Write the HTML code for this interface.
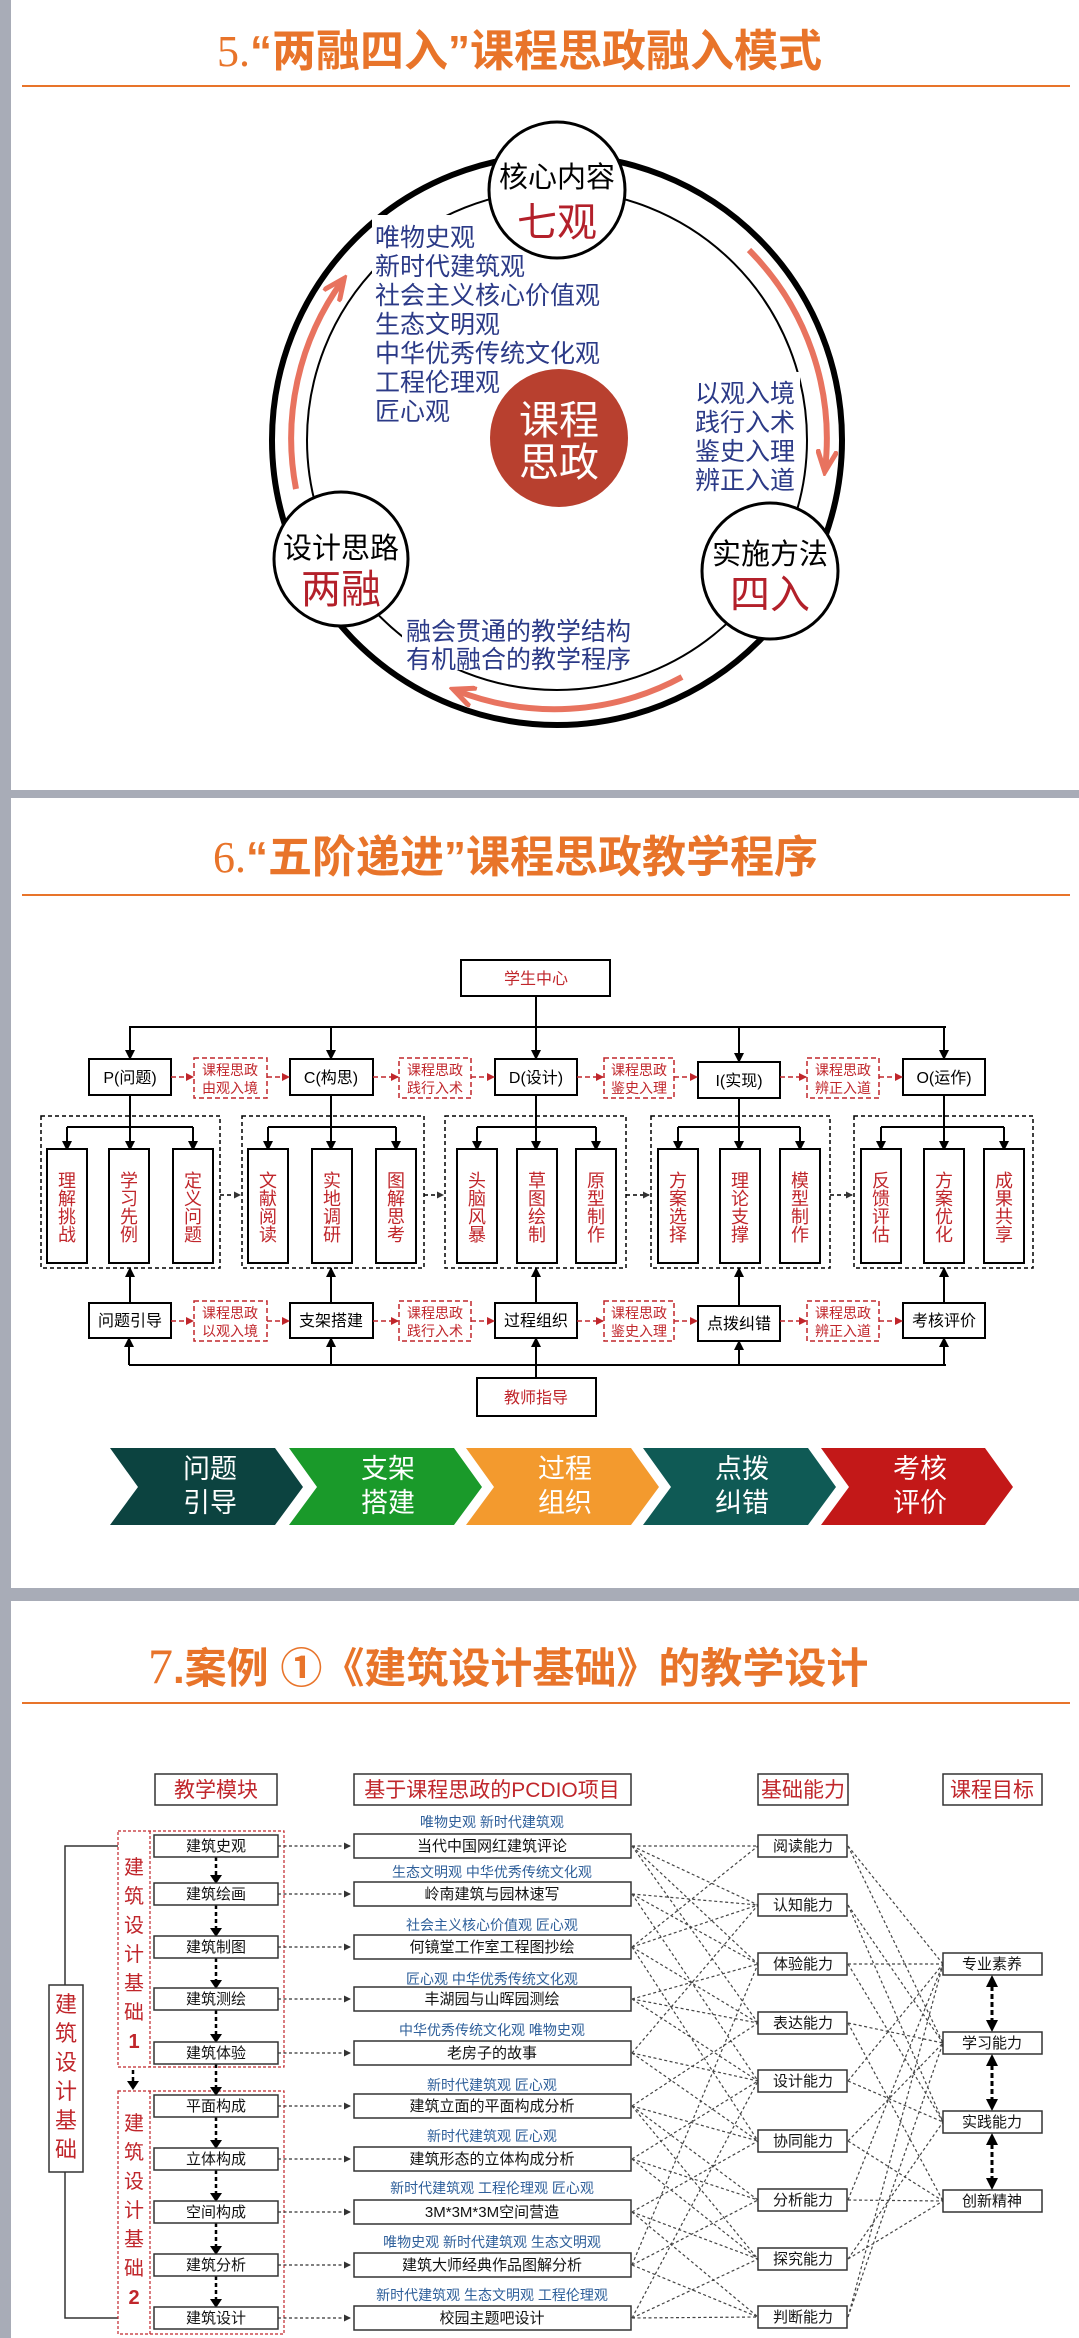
<!DOCTYPE html>
<html><head><meta charset="utf-8"><style>
html,body{margin:0;padding:0;background:#fff}
svg{display:block}
text{font-family:"Liberation Sans","Noto Sans CJK SC",sans-serif}
</style></head><body>
<svg width="1079" height="2338" viewBox="0 0 1079 2338" xmlns="http://www.w3.org/2000/svg">
<defs>
<marker id="ab" markerWidth="10" markerHeight="10" refX="9" refY="5" orient="auto" markerUnits="userSpaceOnUse"><path d="M0,0 L10,5 L0,10 z" fill="#000"/></marker>
<marker id="ab2" markerWidth="14" markerHeight="14" refX="13" refY="7" orient="auto" markerUnits="userSpaceOnUse"><path d="M0,0 L14,7 L0,14 z" fill="#000"/></marker>
<marker id="ar" markerWidth="8" markerHeight="8" refX="7" refY="4" orient="auto" markerUnits="userSpaceOnUse"><path d="M0,0 L8,4 L0,8 z" fill="#c0262b"/></marker>
<marker id="as" markerWidth="7" markerHeight="7" refX="6" refY="3.5" orient="auto" markerUnits="userSpaceOnUse"><path d="M0,0 L7,3.5 L0,7 z" fill="#333"/></marker>
<marker id="ao" markerWidth="26" markerHeight="22" refX="20" refY="11" orient="auto" markerUnits="userSpaceOnUse"><path d="M0,1 L22,11 L0,21" fill="none" stroke="#e8735f" stroke-width="5"/></marker>
</defs>
<!-- frame -->
<rect x="0" y="0" width="11" height="2338" fill="#a8acb7"/>
<rect x="0" y="790" width="1079" height="8" fill="#a8acb7"/>
<rect x="0" y="1588" width="1079" height="13" fill="#a8acb7"/>

<!-- ===== Section 5 ===== -->
<text x="217" y="66" font-size="44" fill="#e8742a" font-weight="bold"><tspan font-family="Liberation Serif" font-weight="normal">5.</tspan>“两融四入”课程思政融入模式</text>
<line x1="22" y1="86" x2="1070" y2="86" stroke="#e8742a" stroke-width="2"/>
<circle cx="557" cy="440" r="285" fill="none" stroke="#000" stroke-width="6"/>
<circle cx="557" cy="440" r="250" fill="none" stroke="#000" stroke-width="2"/>
<!-- text backgrounds to hide inner circle -->
<rect x="372" y="215" width="205" height="210" fill="#fff"/>
<rect x="690" y="372" width="110" height="118" fill="#fff"/>
<rect x="402" y="610" width="245" height="60" fill="#fff"/>
<!-- red arrows -->
<path d="M749,250 A268,268 0 0 1 825,470" fill="none" stroke="#e8735f" stroke-width="6" marker-end="url(#ao)"/>
<path d="M296,489 A268,268 0 0 1 343,280" fill="none" stroke="#e8735f" stroke-width="6" marker-end="url(#ao)"/>
<path d="M682,677 A268,268 0 0 1 455,690" fill="none" stroke="#e8735f" stroke-width="6" marker-end="url(#ao)"/>
<g fill="#2b3a87" font-size="25">
<text x="375" y="246">唯物史观</text><text x="375" y="275">新时代建筑观</text><text x="375" y="304">社会主义核心价值观</text><text x="375" y="333">生态文明观</text><text x="375" y="362">中华优秀传统文化观</text><text x="375" y="391">工程伦理观</text><text x="375" y="420">匠心观</text>
<text x="695" y="402">以观入境</text><text x="695" y="431">践行入术</text><text x="695" y="460">鉴史入理</text><text x="695" y="489">辨正入道</text>
<text x="406" y="640">融会贯通的教学结构</text><text x="406" y="668">有机融合的教学程序</text>
</g>
<circle cx="559" cy="438" r="69" fill="#b8402f"/>
<text x="559" y="434" font-size="40" fill="#fff" text-anchor="middle">课程</text>
<text x="559" y="476" font-size="40" fill="#fff" text-anchor="middle">思政</text>
<circle cx="557" cy="190" r="68" fill="#fff" stroke="#000" stroke-width="3"/>
<text x="557" y="187" font-size="29" text-anchor="middle">核心内容</text>
<text x="557" y="236" font-size="40" fill="#b3202a" text-anchor="middle">七观</text>
<circle cx="341" cy="559" r="67" fill="#fff" stroke="#000" stroke-width="3"/>
<text x="341" y="558" font-size="29" text-anchor="middle">设计思路</text>
<text x="341" y="603" font-size="40" fill="#b3202a" text-anchor="middle">两融</text>
<circle cx="770" cy="571" r="68" fill="#fff" stroke="#000" stroke-width="3"/>
<text x="770" y="564" font-size="29" text-anchor="middle">实施方法</text>
<text x="770" y="608" font-size="40" fill="#b3202a" text-anchor="middle">四入</text>

<!-- ===== Section 6 ===== -->
<text x="213" y="872" font-size="44" fill="#e8742a" font-weight="bold"><tspan font-family="Liberation Serif" font-weight="normal">6.</tspan>“五阶递进”课程思政教学程序</text>
<line x1="22" y1="895" x2="1070" y2="895" stroke="#e8742a" stroke-width="2"/>
<rect x="461" y="960" width="149" height="36" fill="#fff" stroke="#000" stroke-width="2"/>
<text x="536" y="984" font-size="16" fill="#c0262b" text-anchor="middle">学生中心</text>
<g stroke="#000" stroke-width="2" fill="none">
<line x1="536" y1="996" x2="536" y2="1027"/>
<line x1="129" y1="1027" x2="946" y2="1027"/>
<line x1="130" y1="1027" x2="130" y2="1059" marker-end="url(#ab)"/>
<line x1="331" y1="1027" x2="331" y2="1059" marker-end="url(#ab)"/>
<line x1="536" y1="1027" x2="536" y2="1059" marker-end="url(#ab)"/>
<line x1="739" y1="1027" x2="739" y2="1062" marker-end="url(#ab)"/>
<line x1="944" y1="1027" x2="944" y2="1059" marker-end="url(#ab)"/>
</g>
<g fill="#fff" stroke="#000" stroke-width="2">
<rect x="89" y="1059" width="82" height="36"/><rect x="290" y="1059" width="83" height="36"/><rect x="495" y="1059" width="82" height="36"/><rect x="698" y="1062" width="82" height="36"/><rect x="903" y="1059" width="82" height="36"/>
<rect x="89" y="1303" width="82" height="35"/><rect x="290" y="1303" width="83" height="35"/><rect x="495" y="1303" width="82" height="35"/><rect x="698" y="1306" width="82" height="35"/><rect x="903" y="1303" width="82" height="35"/>
<rect x="477" y="1378" width="119" height="38"/>
</g>
<g font-size="16" text-anchor="middle">
<text x="130" y="1083">P(问题)</text><text x="331" y="1083">C(构思)</text><text x="536" y="1083">D(设计)</text><text x="739" y="1086">I(实现)</text><text x="944" y="1083">O(运作)</text>
<text x="130" y="1326">问题引导</text><text x="331" y="1326">支架搭建</text><text x="536" y="1326">过程组织</text><text x="739" y="1329">点拨纠错</text><text x="944" y="1326">考核评价</text>
<text x="536" y="1403" fill="#c0262b">教师指导</text>
</g>
<!-- red dashed boxes -->
<g fill="none" stroke="#c0262b" stroke-width="1.5" stroke-dasharray="5,3">
<rect x="194" y="1058" width="73" height="40"/><rect x="399" y="1058" width="72" height="40"/><rect x="604" y="1058" width="70" height="40"/><rect x="807" y="1058" width="72" height="40"/>
<rect x="194" y="1301" width="73" height="40"/><rect x="399" y="1301" width="72" height="40"/><rect x="604" y="1301" width="70" height="40"/><rect x="807" y="1301" width="72" height="40"/>
<line x1="171" y1="1077" x2="193" y2="1077" marker-end="url(#ar)"/><line x1="267" y1="1077" x2="289" y2="1077" marker-end="url(#ar)"/>
<line x1="373" y1="1077" x2="398" y2="1077" marker-end="url(#ar)"/><line x1="471" y1="1077" x2="494" y2="1077" marker-end="url(#ar)"/>
<line x1="577" y1="1077" x2="603" y2="1077" marker-end="url(#ar)"/><line x1="674" y1="1077" x2="697" y2="1077" marker-end="url(#ar)"/>
<line x1="780" y1="1077" x2="806" y2="1077" marker-end="url(#ar)"/><line x1="879" y1="1077" x2="902" y2="1077" marker-end="url(#ar)"/>
<line x1="171" y1="1321" x2="193" y2="1321" marker-end="url(#ar)"/><line x1="267" y1="1321" x2="289" y2="1321" marker-end="url(#ar)"/>
<line x1="373" y1="1321" x2="398" y2="1321" marker-end="url(#ar)"/><line x1="471" y1="1321" x2="494" y2="1321" marker-end="url(#ar)"/>
<line x1="577" y1="1321" x2="603" y2="1321" marker-end="url(#ar)"/><line x1="674" y1="1321" x2="697" y2="1321" marker-end="url(#ar)"/>
<line x1="780" y1="1321" x2="806" y2="1321" marker-end="url(#ar)"/><line x1="879" y1="1321" x2="902" y2="1321" marker-end="url(#ar)"/>
</g>
<g font-size="14" fill="#c0262b" text-anchor="middle">
<text x="230" y="1075">课程思政</text><text x="230" y="1093">由观入境</text>
<text x="435" y="1075">课程思政</text><text x="435" y="1093">践行入术</text>
<text x="639" y="1075">课程思政</text><text x="639" y="1093">鉴史入理</text>
<text x="843" y="1075">课程思政</text><text x="843" y="1093">辨正入道</text>
<text x="230" y="1318">课程思政</text><text x="230" y="1336">以观入境</text>
<text x="435" y="1318">课程思政</text><text x="435" y="1336">践行入术</text>
<text x="639" y="1318">课程思政</text><text x="639" y="1336">鉴史入理</text>
<text x="843" y="1318">课程思政</text><text x="843" y="1336">辨正入道</text>
</g>
<!-- dotted containers -->
<g fill="none" stroke="#000" stroke-width="1.5" stroke-dasharray="4,3">
<rect x="41" y="1116" width="179" height="152"/><rect x="242" y="1116" width="182" height="152"/><rect x="445" y="1116" width="181" height="152"/><rect x="651" y="1116" width="179" height="152"/><rect x="854" y="1116" width="179" height="152"/>
<line x1="220" y1="1195" x2="240" y2="1195" marker-end="url(#as)"/><line x1="424" y1="1195" x2="443" y2="1195" marker-end="url(#as)"/><line x1="626" y1="1195" x2="649" y2="1195" marker-end="url(#as)"/><line x1="830" y1="1195" x2="852" y2="1195" marker-end="url(#as)"/>
</g>
<g stroke="#000" stroke-width="2" fill="none">
<line x1="130" y1="1095" x2="130" y2="1150" marker-end="url(#ab)"/><line x1="67" y1="1127" x2="193" y2="1127"/><line x1="67" y1="1127" x2="67" y2="1150" marker-end="url(#ab)"/><line x1="193" y1="1127" x2="193" y2="1150" marker-end="url(#ab)"/>
<line x1="331" y1="1095" x2="331" y2="1150" marker-end="url(#ab)"/><line x1="268" y1="1127" x2="396" y2="1127"/><line x1="268" y1="1127" x2="268" y2="1150" marker-end="url(#ab)"/><line x1="396" y1="1127" x2="396" y2="1150" marker-end="url(#ab)"/>
<line x1="536" y1="1095" x2="536" y2="1150" marker-end="url(#ab)"/><line x1="477" y1="1127" x2="596" y2="1127"/><line x1="477" y1="1127" x2="477" y2="1150" marker-end="url(#ab)"/><line x1="596" y1="1127" x2="596" y2="1150" marker-end="url(#ab)"/>
<line x1="739" y1="1098" x2="739" y2="1150" marker-end="url(#ab)"/><line x1="678" y1="1127" x2="800" y2="1127"/><line x1="678" y1="1127" x2="678" y2="1150" marker-end="url(#ab)"/><line x1="800" y1="1127" x2="800" y2="1150" marker-end="url(#ab)"/>
<line x1="944" y1="1095" x2="944" y2="1150" marker-end="url(#ab)"/><line x1="881" y1="1127" x2="1004" y2="1127"/><line x1="881" y1="1127" x2="881" y2="1150" marker-end="url(#ab)"/><line x1="1004" y1="1127" x2="1004" y2="1150" marker-end="url(#ab)"/>
<line x1="130" y1="1303" x2="130" y2="1268" marker-end="url(#ab)"/><line x1="331" y1="1303" x2="331" y2="1268" marker-end="url(#ab)"/><line x1="536" y1="1303" x2="536" y2="1268" marker-end="url(#ab)"/><line x1="739" y1="1306" x2="739" y2="1268" marker-end="url(#ab)"/><line x1="944" y1="1303" x2="944" y2="1268" marker-end="url(#ab)"/>
<line x1="129" y1="1365" x2="946" y2="1365"/><line x1="536" y1="1378" x2="536" y2="1338" marker-end="url(#ab)"/>
<line x1="129" y1="1365" x2="129" y2="1338" marker-end="url(#ab)"/><line x1="331" y1="1365" x2="331" y2="1338" marker-end="url(#ab)"/><line x1="739" y1="1365" x2="739" y2="1341" marker-end="url(#ab)"/><line x1="944" y1="1365" x2="944" y2="1338" marker-end="url(#ab)"/>
</g>
<g fill="#fff" stroke="#000" stroke-width="2">
<rect x="47" y="1149" width="40" height="114"/><rect x="109" y="1149" width="40" height="114"/><rect x="173" y="1149" width="40" height="114"/>
<rect x="248" y="1149" width="40" height="114"/><rect x="312" y="1149" width="40" height="114"/><rect x="376" y="1149" width="40" height="114"/>
<rect x="457" y="1149" width="40" height="114"/><rect x="517" y="1149" width="40" height="114"/><rect x="576" y="1149" width="40" height="114"/>
<rect x="658" y="1149" width="40" height="114"/><rect x="720" y="1149" width="40" height="114"/><rect x="780" y="1149" width="40" height="114"/>
<rect x="861" y="1149" width="40" height="114"/><rect x="924" y="1149" width="40" height="114"/><rect x="984" y="1149" width="40" height="114"/>
</g>
<g font-size="18" fill="#c0262b" text-anchor="middle">
<text y="1187"><tspan x="67">理</tspan><tspan x="67" dy="18">解</tspan><tspan x="67" dy="18">挑</tspan><tspan x="67" dy="18">战</tspan></text>
<text y="1187"><tspan x="129">学</tspan><tspan x="129" dy="18">习</tspan><tspan x="129" dy="18">先</tspan><tspan x="129" dy="18">例</tspan></text>
<text y="1187"><tspan x="193">定</tspan><tspan x="193" dy="18">义</tspan><tspan x="193" dy="18">问</tspan><tspan x="193" dy="18">题</tspan></text>
<text y="1187"><tspan x="268">文</tspan><tspan x="268" dy="18">献</tspan><tspan x="268" dy="18">阅</tspan><tspan x="268" dy="18">读</tspan></text>
<text y="1187"><tspan x="332">实</tspan><tspan x="332" dy="18">地</tspan><tspan x="332" dy="18">调</tspan><tspan x="332" dy="18">研</tspan></text>
<text y="1187"><tspan x="396">图</tspan><tspan x="396" dy="18">解</tspan><tspan x="396" dy="18">思</tspan><tspan x="396" dy="18">考</tspan></text>
<text y="1187"><tspan x="477">头</tspan><tspan x="477" dy="18">脑</tspan><tspan x="477" dy="18">风</tspan><tspan x="477" dy="18">暴</tspan></text>
<text y="1187"><tspan x="537">草</tspan><tspan x="537" dy="18">图</tspan><tspan x="537" dy="18">绘</tspan><tspan x="537" dy="18">制</tspan></text>
<text y="1187"><tspan x="596">原</tspan><tspan x="596" dy="18">型</tspan><tspan x="596" dy="18">制</tspan><tspan x="596" dy="18">作</tspan></text>
<text y="1187"><tspan x="678">方</tspan><tspan x="678" dy="18">案</tspan><tspan x="678" dy="18">选</tspan><tspan x="678" dy="18">择</tspan></text>
<text y="1187"><tspan x="740">理</tspan><tspan x="740" dy="18">论</tspan><tspan x="740" dy="18">支</tspan><tspan x="740" dy="18">撑</tspan></text>
<text y="1187"><tspan x="800">模</tspan><tspan x="800" dy="18">型</tspan><tspan x="800" dy="18">制</tspan><tspan x="800" dy="18">作</tspan></text>
<text y="1187"><tspan x="881">反</tspan><tspan x="881" dy="18">馈</tspan><tspan x="881" dy="18">评</tspan><tspan x="881" dy="18">估</tspan></text>
<text y="1187"><tspan x="944">方</tspan><tspan x="944" dy="18">案</tspan><tspan x="944" dy="18">优</tspan><tspan x="944" dy="18">化</tspan></text>
<text y="1187"><tspan x="1004">成</tspan><tspan x="1004" dy="18">果</tspan><tspan x="1004" dy="18">共</tspan><tspan x="1004" dy="18">享</tspan></text>
</g>
<!-- chevrons -->
<polygon points="110,1448 275,1448 303,1487 275,1525 110,1525 138,1487" fill="#0c4340"/>
<polygon points="289,1448 454,1448 482,1487 454,1525 289,1525 317,1487" fill="#1a9a2a"/>
<polygon points="466,1448 631,1448 659,1487 631,1525 466,1525 494,1487" fill="#f39a2e"/>
<polygon points="643,1448 808,1448 836,1487 808,1525 643,1525 671,1487" fill="#0f5a55"/>
<polygon points="821,1448 985,1448 1013,1487 985,1525 821,1525 849,1487" fill="#c31818"/>
<g font-size="27" fill="#fff" text-anchor="middle">
<text x="210" y="1478">问题</text><text x="210" y="1512">引导</text>
<text x="388" y="1478">支架</text><text x="388" y="1512">搭建</text>
<text x="565" y="1478">过程</text><text x="565" y="1512">组织</text>
<text x="742" y="1478">点拨</text><text x="742" y="1512">纠错</text>
<text x="920" y="1478">考核</text><text x="920" y="1512">评价</text>
</g>

<!-- ===== Section 7 ===== -->
<text x="148" y="1683" font-size="42" fill="#e8742a" font-weight="bold"><tspan font-family="Liberation Serif" font-weight="normal" font-size="50">7</tspan>.案例 ①《建筑设计基础》的教学设计</text>
<line x1="22" y1="1703" x2="1070" y2="1703" stroke="#e8742a" stroke-width="2"/>
<g fill="#fff" stroke="#333" stroke-width="1.5">
<rect x="155" y="1774" width="122" height="31"/><rect x="354" y="1774" width="277" height="31"/><rect x="758" y="1774" width="90" height="31"/><rect x="943" y="1774" width="99" height="31"/>
</g>
<g font-size="21" fill="#c0262b" text-anchor="middle">
<text x="216" y="1797">教学模块</text><text x="492" y="1797">基于课程思政的PCDIO项目</text><text x="803" y="1797">基础能力</text><text x="992" y="1797">课程目标</text>
</g>
<!-- connections -->
<g stroke="#444" stroke-width="1.2" stroke-dasharray="3,2.5" fill="none" id="conn">
<path d="M632,1846 L758,1846 M632,1846 L758,1905 M632,1846 L758,1964 M632,1846 L758,2023
M632,1894 L758,1905 M632,1894 L758,1964 M632,1894 L758,2081
M632,1947 L758,1846 M632,1947 L758,1905 M632,1947 L758,2023 M632,1947 L758,2141
M632,1999 L758,1964 M632,1999 L758,2023 M632,1999 L758,2081
M632,2053 L758,1905 M632,2053 L758,2081 M632,2053 L758,2141
M632,2106 L758,2023 M632,2106 L758,2141 M632,2106 L758,2200 M632,2106 L758,2259
M632,2159 L758,2081 M632,2159 L758,2200 M632,2159 L758,2259
M632,2212 L758,2141 M632,2212 L758,2259 M632,2212 L758,2317
M632,2265 L758,1964 M632,2265 L758,2200 M632,2265 L758,2317
M632,2318 L758,2081 M632,2318 L758,2259 M632,2318 L758,2317
M848,1846 L943,1964 M848,1846 L943,2043
M848,1905 L943,2043 M848,1905 L943,2122
M848,1964 L943,1964 M848,1964 L943,2122
M848,2023 L943,2043 M848,2023 L943,2201
M848,2081 L943,1964 M848,2081 L943,2122
M848,2141 L943,2043 M848,2141 L943,2201
M848,2200 L943,2201 M848,2200 L943,1964
M848,2259 L943,2122 M848,2259 L943,2201
M848,2317 L943,2043 M848,2317 L943,1964"/>
</g>
<g stroke="#000" stroke-width="3" stroke-dasharray="5,3">
<line x1="992" y1="1978" x2="992" y2="2029"/><line x1="992" y1="2057" x2="992" y2="2108"/><line x1="992" y1="2136" x2="992" y2="2187"/>
</g>
<g fill="#000">
<path d="M992,1975 l-6,12 h12z"/><path d="M992,2032 l-6,-12 h12z"/><path d="M992,2054 l-6,12 h12z"/><path d="M992,2111 l-6,-12 h12z"/><path d="M992,2133 l-6,12 h12z"/><path d="M992,2190 l-6,-12 h12z"/>
</g>
<!-- left structure -->
<polyline points="118,1846 65,1846 65,2318 118,2318" fill="none" stroke="#333" stroke-width="1.5"/>
<rect x="49" y="1985" width="34" height="187" fill="#fff" stroke="#333" stroke-width="1.5"/>
<text y="2012" font-size="22" fill="#c0262b" text-anchor="middle"><tspan x="66">建</tspan><tspan x="66" dy="29">筑</tspan><tspan x="66" dy="29">设</tspan><tspan x="66" dy="29">计</tspan><tspan x="66" dy="29">基</tspan><tspan x="66" dy="29">础</tspan></text>
<g fill="none" stroke="#c0262b" stroke-width="1.2" stroke-dasharray="3,2">
<rect x="118" y="1831" width="166" height="236"/><line x1="150" y1="1831" x2="150" y2="2067"/>
<rect x="118" y="2091" width="166" height="243"/><line x1="150" y1="2091" x2="150" y2="2334"/>
</g>
<text y="1874" font-size="20" fill="#c0262b" text-anchor="middle"><tspan x="134">建</tspan><tspan x="134" dy="29">筑</tspan><tspan x="134" dy="29">设</tspan><tspan x="134" dy="29">计</tspan><tspan x="134" dy="29">基</tspan><tspan x="134" dy="29">础</tspan><tspan x="134" dy="29" font-weight="bold">1</tspan></text>
<text y="2130" font-size="20" fill="#c0262b" text-anchor="middle"><tspan x="134">建</tspan><tspan x="134" dy="29">筑</tspan><tspan x="134" dy="29">设</tspan><tspan x="134" dy="29">计</tspan><tspan x="134" dy="29">基</tspan><tspan x="134" dy="29">础</tspan><tspan x="134" dy="29" font-weight="bold">2</tspan></text>
<g stroke="#000" stroke-width="2.5" stroke-dasharray="4,3" fill="none">
<line x1="216" y1="1857" x2="216" y2="1880"/><line x1="216" y1="1905" x2="216" y2="1933"/><line x1="216" y1="1958" x2="216" y2="1985"/><line x1="216" y1="2010" x2="216" y2="2039"/><line x1="216" y1="2064" x2="216" y2="2092"/><line x1="216" y1="2117" x2="216" y2="2145"/><line x1="216" y1="2170" x2="216" y2="2198"/><line x1="216" y1="2223" x2="216" y2="2251"/><line x1="216" y1="2276" x2="216" y2="2304"/>
<line x1="133" y1="2070" x2="133" y2="2085"/>
</g>
<g fill="#000">
<path d="M216,1884 l-6,-9 h12z"/><path d="M216,1937 l-6,-9 h12z"/><path d="M216,1989 l-6,-9 h12z"/><path d="M216,2043 l-6,-9 h12z"/><path d="M216,2096 l-6,-9 h12z"/><path d="M216,2149 l-6,-9 h12z"/><path d="M216,2202 l-6,-9 h12z"/><path d="M216,2255 l-6,-9 h12z"/><path d="M216,2308 l-6,-9 h12z"/><path d="M133,2090 l-6,-9 h12z"/>
</g>
<g stroke="#333" stroke-width="1.2" stroke-dasharray="3,2.5">
<line x1="278" y1="1846" x2="350" y2="1846" marker-end="url(#as)"/><line x1="278" y1="1894" x2="350" y2="1894" marker-end="url(#as)"/><line x1="278" y1="1947" x2="350" y2="1947" marker-end="url(#as)"/><line x1="278" y1="1999" x2="350" y2="1999" marker-end="url(#as)"/><line x1="278" y1="2053" x2="350" y2="2053" marker-end="url(#as)"/><line x1="278" y1="2106" x2="350" y2="2106" marker-end="url(#as)"/><line x1="278" y1="2159" x2="350" y2="2159" marker-end="url(#as)"/><line x1="278" y1="2212" x2="350" y2="2212" marker-end="url(#as)"/><line x1="278" y1="2265" x2="350" y2="2265" marker-end="url(#as)"/><line x1="278" y1="2318" x2="350" y2="2318" marker-end="url(#as)"/>
</g>
<g fill="#fff" stroke="#333" stroke-width="1.5">
<rect x="154" y="1835" width="124" height="22"/><rect x="154" y="1883" width="124" height="22"/><rect x="154" y="1936" width="124" height="22"/><rect x="154" y="1988" width="124" height="22"/><rect x="154" y="2042" width="124" height="22"/><rect x="154" y="2095" width="124" height="22"/><rect x="154" y="2148" width="124" height="22"/><rect x="154" y="2201" width="124" height="22"/><rect x="154" y="2254" width="124" height="22"/><rect x="154" y="2307" width="124" height="22"/>
<rect x="354" y="1834" width="277" height="24"/><rect x="354" y="1882" width="277" height="24"/><rect x="354" y="1935" width="277" height="24"/><rect x="354" y="1987" width="277" height="24"/><rect x="354" y="2041" width="277" height="24"/><rect x="354" y="2094" width="277" height="24"/><rect x="354" y="2147" width="277" height="24"/><rect x="354" y="2200" width="277" height="24"/><rect x="354" y="2253" width="277" height="24"/><rect x="354" y="2306" width="277" height="24"/>
<rect x="758" y="1835" width="89" height="22"/><rect x="758" y="1894" width="89" height="22"/><rect x="758" y="1953" width="89" height="22"/><rect x="758" y="2012" width="89" height="22"/><rect x="758" y="2070" width="89" height="22"/><rect x="758" y="2130" width="89" height="22"/><rect x="758" y="2189" width="89" height="22"/><rect x="758" y="2248" width="89" height="22"/><rect x="758" y="2306" width="89" height="22"/>
<rect x="943" y="1953" width="99" height="22"/><rect x="943" y="2032" width="99" height="22"/><rect x="943" y="2111" width="99" height="22"/><rect x="943" y="2190" width="99" height="22"/>
</g>
<g font-size="15" text-anchor="middle" fill="#111">
<text x="216" y="1851">建筑史观</text><text x="216" y="1899">建筑绘画</text><text x="216" y="1952">建筑制图</text><text x="216" y="2004">建筑测绘</text><text x="216" y="2058">建筑体验</text><text x="216" y="2111">平面构成</text><text x="216" y="2164">立体构成</text><text x="216" y="2217">空间构成</text><text x="216" y="2270">建筑分析</text><text x="216" y="2323">建筑设计</text>
<text x="492" y="1851">当代中国网红建筑评论</text><text x="492" y="1899">岭南建筑与园林速写</text><text x="492" y="1952">何镜堂工作室工程图抄绘</text><text x="492" y="2004">丰湖园与山晖园测绘</text><text x="492" y="2058">老房子的故事</text><text x="492" y="2111">建筑立面的平面构成分析</text><text x="492" y="2164">建筑形态的立体构成分析</text><text x="492" y="2217">3M*3M*3M空间营造</text><text x="492" y="2270">建筑大师经典作品图解分析</text><text x="492" y="2323">校园主题吧设计</text>
<text x="803" y="1851">阅读能力</text><text x="803" y="1910">认知能力</text><text x="803" y="1969">体验能力</text><text x="803" y="2028">表达能力</text><text x="803" y="2086">设计能力</text><text x="803" y="2146">协同能力</text><text x="803" y="2205">分析能力</text><text x="803" y="2264">探究能力</text><text x="803" y="2322">判断能力</text>
<text x="992" y="1969">专业素养</text><text x="992" y="2048">学习能力</text><text x="992" y="2127">实践能力</text><text x="992" y="2206">创新精神</text>
</g>
<g font-size="14" text-anchor="middle" fill="#2e5f9a">
<text x="492" y="1827">唯物史观  新时代建筑观</text><text x="492" y="1877">生态文明观  中华优秀传统文化观</text><text x="492" y="1930">社会主义核心价值观  匠心观</text><text x="492" y="1984">匠心观  中华优秀传统文化观</text><text x="492" y="2035">中华优秀传统文化观  唯物史观</text><text x="492" y="2090">新时代建筑观  匠心观</text><text x="492" y="2141">新时代建筑观  匠心观</text><text x="492" y="2193">新时代建筑观  工程伦理观  匠心观</text><text x="492" y="2247">唯物史观  新时代建筑观  生态文明观</text><text x="492" y="2300">新时代建筑观  生态文明观  工程伦理观</text>
</g>
</svg>
</body></html>
